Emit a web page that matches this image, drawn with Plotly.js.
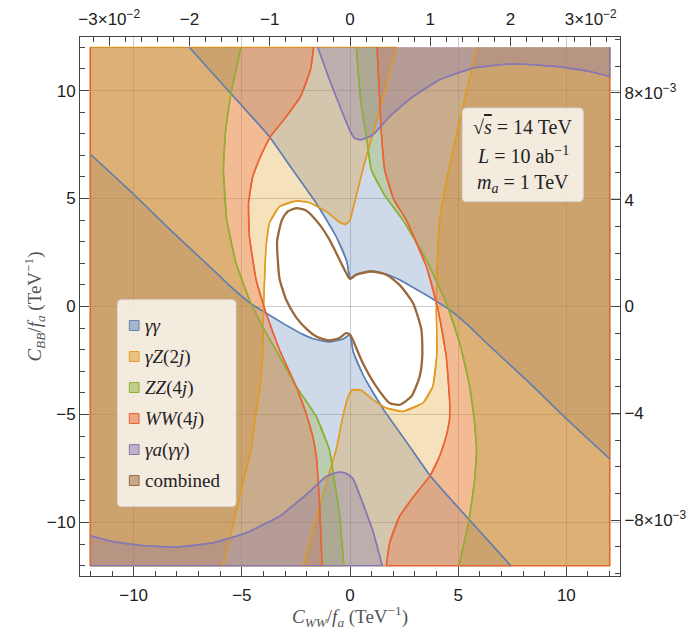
<!DOCTYPE html>
<html>
<head>
<meta charset="utf-8">
<script src="https://cdn.plot.ly/plotly-3.0.1.min.js"></script>
<style>
  html, body { margin: 0; padding: 0; background: #fff; }
  #plot { width: 697px; height: 630px; }
</style>
</head>
<body>
<div id="plot"></div>
<script>
// boundaries, C_WW/f_a (x) against C_BB/f_a (y), TeV^-1
const gagaUpperX = [-7.43, -5.58, -3.73, -2.65, -1.56, -0.64, -0.15, 0.0, 0.3, 0.98, 1.68, 2.29, 3.06, 3.9, 4.61, 5.53, 6.15, 8.31, 10.0, 12.0]
const gagaUpperY = [12.0, 9.95, 7.87, 6.33, 4.79, 3.24, 2.1, 1.3, 1.5, 1.64, 1.5, 1.24, 0.8, 0.3, -0.15, -0.93, -1.54, -3.55, -5.2, -7.05]
const gagaLowerX = [-12.0, -10.0, -8.31, -6.15, -5.53, -4.61, -3.9, -3.06, -2.29, -1.68, -0.98, -0.3, 0.0, 0.15, 0.64, 1.56, 2.65, 3.73, 5.58, 7.43]
const gagaLowerY = [7.05, 5.2, 3.55, 1.54, 0.93, 0.15, -0.3, -0.8, -1.24, -1.5, -1.64, -1.5, -1.3, -2.1, -3.24, -4.79, -6.33, -7.87, -9.95, -12.0]

const gzLeftX = [-5.86, -5.27, -4.81, -4.57, -4.42, -4.16, -4.04, -3.99, -3.88, -3.73, -3.26, -2.49, -1.88, -1.1, -0.5, -0.22, 0.0, 0.13, 0.59, 1.06, 1.68, 2.14]
const gzLeftY = [-12.0, -9.57, -7.56, -6.63, -5.4, -3.7, -2.31, 0.16, 2.78, 3.86, 4.63, 4.89, 4.81, 4.4, 3.92, 3.8, 4.0, 4.48, 6.33, 8.03, 10.19, 12.0]
const gzRightX = [5.86, 5.3, 4.8, 4.45, 4.14, 4.02, 3.99, 4.02, 3.83, 3.37, 2.44, 1.68, 1.06, 0.52, 0.1, -0.1, -0.33, -0.64, -1.06, -1.68, -2.15]
const gzRightY = [12.0, 9.6, 7.4, 5.8, 4.01, 1.7, -0.15, -2.16, -3.7, -4.47, -4.86, -4.7, -4.32, -3.88, -3.86, -4.2, -5.09, -6.63, -8.03, -10.19, -12.0]

const zzLeftX = [-5.04, -5.5, -5.76, -5.85, -5.7, -5.27, -4.65, -4.04, -3.26, -2.49, -1.56, -0.95, -0.8, -0.49, -0.29]
const zzLeftY = [12.0, 9.88, 8.03, 6.3, 4.01, 2.01, 0.31, -0.93, -2.31, -3.7, -5.09, -6.63, -7.56, -9.57, -12.0]
const zzRightX = [0.29, 0.49, 0.8, 0.98, 1.6, 2.44, 3.53, 4.45, 5.07, 5.53, 5.76, 5.85, 5.76, 5.5, 5.04]
const zzRightY = [12.0, 9.57, 7.56, 6.33, 5.15, 4.01, 2.16, 0.16, -1.69, -3.7, -5.4, -6.63, -8.03, -9.88, -12.0]

const wwLeftX = [-1.68, -1.83, -2.29, -3.06, -3.68, -4.14, -4.5, -4.69, -4.65, -4.34, -3.88, -3.26, -2.49, -2.03, -1.72, -1.55, -1.41, -1.29]
const wwLeftY = [12.0, 10.95, 9.72, 8.64, 7.87, 6.94, 6.0, 4.79, 3.24, 1.24, -0.31, -2.0, -3.7, -4.94, -6.02, -7.0, -9.1, -12.0]
const wwRightX = [1.25, 1.35, 1.45, 1.6, 2.03, 2.6, 3.53, 4.07, 4.45, 4.61, 4.6, 4.45, 4.14, 3.68, 3.06, 2.29, 1.83, 1.68]
const wwRightY = [12.0, 10.0, 8.0, 6.33, 4.94, 4.01, 1.85, -0.15, -2.31, -4.47, -5.25, -6.0, -6.94, -7.87, -8.64, -9.72, -10.95, -12.0]

const gaTopX = [-1.49, -0.95, -0.4, -0.02, 0.2, 0.52, 1.06, 1.83, 2.91, 4.14, 5.69, 7.23, 8.0, 9.55, 11.09, 12.0]
const gaTopY = [12.0, 10.5, 9.1, 8.18, 7.8, 7.72, 7.95, 8.8, 9.72, 10.5, 11.04, 11.22, 11.22, 11.11, 10.88, 10.65]
const gaBottomX = [-12.0, -10.98, -9.44, -8.05, -6.35, -4.81, -3.26, -2.03, -1.1, -0.56, -0.2, 0.13, 0.59, 1.06, 1.49]
const gaBottomY = [-10.62, -10.88, -11.08, -11.14, -10.95, -10.49, -9.72, -8.72, -7.87, -7.67, -7.72, -7.95, -9.1, -10.4, -12.0]

const combinedX = [0.0, -0.2, -0.5, -0.95, -1.45, -2.03, -2.49, -2.88, -3.15, -3.37, -3.34, -3.26, -2.95, -2.49, -2.0, -1.56, -1.0, -0.49, -0.18, 0.0, 0.13, 0.59, 1.21, 1.83, 2.29, 2.83, 3.22, 3.34, 3.3, 2.91, 2.29, 1.68, 0.98, 0.29, 0.0]
const combinedY = [1.27, 1.6, 2.2, 3.1, 3.85, 4.45, 4.55, 4.4, 4.0, 3.0, 2.2, 1.3, 0.31, -0.5, -1.05, -1.39, -1.57, -1.46, -1.23, -1.3, -1.54, -2.62, -3.7, -4.47, -4.55, -4.17, -3.24, -2.31, -1.08, 0.16, 1.0, 1.47, 1.62, 1.47, 1.27]

const legendLabels = ["<i>γγ</i>", "<i>γZ</i>(2<i>j</i>)", "<i>ZZ</i>(4<i>j</i>)", "<i>WW</i>(4<i>j</i>)", "<i>γa</i>(<i>γγ</i>)", "combined"]
const legendColors = ["#5E81B5", "#E19C24", "#8FB032", "#EB6235", "#8778B3", "#9A683A"]

const infoLines = ["√<span style=\"text-decoration:overline\"><i>s</i></span> = 14 TeV", "<i>L</i> = 10 ab<sup>−1</sup>", "<i>m</i><sub><i>a</i></sub> = 1 TeV"]

const topTickVals = [-0.03, -0.02, -0.01, 0, 0.01, 0.02, 0.03]
const topTickText = ["−3×10<sup>−2</sup>", "−2", "−1", "0", "1", "2", "3×10<sup>−2</sup>"]
const rightTickVals = [-0.008, -0.004, 0, 0.004, 0.008]
const rightTickText = ["−8×10<sup>−3</sup>", "−4", "0", "4", "8×10<sup>−3</sup>"]

const LIM = 12
const PAD = 12.48
const topScale = 371   // bottom units per unit of the top axis
const rightScale = 1237

function rgba(hex, a) {
  const n = parseInt(hex.slice(1), 16)
  return `rgba(${(n >> 16) & 255},${(n >> 8) & 255},${n & 255},${a})`
}

function region(xs, ys, color) {
  return {
    x: xs, y: ys,
    type: "scatter", mode: "lines", fill: "toself",
    fillcolor: rgba(color, 0.3),
    line: { color: color, width: 1.3 },
    hoverinfo: "skip", showlegend: false,
  }
}

function edge(xs, ys, color, width) {
  return {
    x: xs, y: ys,
    type: "scatter", mode: "lines",
    line: { color: color, width: width || 1.5, shape: "spline", smoothing: 0.6 },
    hoverinfo: "skip", showlegend: false,
  }
}

const fills = [
  region(gagaUpperX.concat([LIM]), gagaUpperY.concat([LIM]), legendColors[0]),
  region(gagaLowerX.concat([-LIM]), gagaLowerY.concat([-LIM]), legendColors[0]),
  region(gzLeftX.concat([-LIM, -LIM]), gzLeftY.concat([LIM, -LIM]), legendColors[1]),
  region(gzRightX.concat([LIM, LIM]), gzRightY.concat([-LIM, LIM]), legendColors[1]),
  region(zzLeftX.concat([-LIM, -LIM]), zzLeftY.concat([-LIM, LIM]), legendColors[2]),
  region(zzRightX.concat([LIM, LIM]), zzRightY.concat([-LIM, LIM]), legendColors[2]),
  region(wwLeftX.concat([-LIM, -LIM]), wwLeftY.concat([-LIM, LIM]), legendColors[3]),
  region(wwRightX.concat([LIM, LIM]), wwRightY.concat([-LIM, LIM]), legendColors[3]),
  region(gaTopX.concat([LIM]), gaTopY.concat([LIM]), legendColors[4]),
  region(gaBottomX.concat([-LIM]), gaBottomY.concat([-LIM]), legendColors[4]),
]

// boundary curves go on top of every fill, as in the original
const lines = [
  edge(gagaUpperX, gagaUpperY, legendColors[0]),
  edge(gagaLowerX, gagaLowerY, legendColors[0]),
  edge(gzLeftX, gzLeftY, legendColors[1]),
  edge(gzRightX, gzRightY, legendColors[1]),
  edge(zzLeftX, zzLeftY, legendColors[2]),
  edge(zzRightX, zzRightY, legendColors[2]),
  edge(wwLeftX, wwLeftY, legendColors[3]),
  edge(wwRightX, wwRightY, legendColors[3]),
  edge(gaTopX, gaTopY, legendColors[4]),
  edge(gaBottomX, gaBottomY, legendColors[4]),
  edge(combinedX, combinedY, legendColors[5], 2.3),
]

const traces = fills.concat(lines, [
  // carries the top and right scales
  { x: [], y: [], xaxis: "x2", yaxis: "y2", type: "scatter", showlegend: false },
])

function roundBox(x0, y0, x1, y1, r) {
  return `M${x0 + r},${y0} L${x1 - r},${y0} Q${x1},${y0} ${x1},${y0 + r} L${x1},${y1 - r} Q${x1},${y1} ${x1 - r},${y1} ` +
    `L${x0 + r},${y1} Q${x0},${y1} ${x0},${y1 - r} L${x0},${y0 + r} Q${x0},${y0} ${x0 + r},${y0} Z`
}

const shapes = []
const annotations = []

// legend panel
shapes.push({
  type: "path", xref: "x", yref: "y", layer: "above",
  path: roundBox(-10.75, -9.26, -5.27, 0.31, 0.2),
  fillcolor: "rgba(255,255,255,0.78)", line: { color: "rgba(215,215,215,0.9)", width: 1 },
})
legendLabels.forEach((lab, i) => {
  const yc = -0.88 - i * 1.436
  shapes.push({
    type: "rect", xref: "x", yref: "y", layer: "above",
    x0: -10.2, x1: -9.75, y0: yc - 0.23, y1: yc + 0.23,
    fillcolor: rgba(legendColors[i], 0.5), line: { color: legendColors[i], width: 1 },
  })
  annotations.push({
    x: -9.55, y: yc, xref: "x", yref: "y", xanchor: "left", yanchor: "middle",
    text: lab, showarrow: false,
    font: { family: "Liberation Serif, serif", size: 19, color: "#222" },
  })
})

// collider parameters panel
shapes.push({
  type: "path", xref: "x", yref: "y", layer: "above",
  path: roundBox(5.19, 4.86, 10.78, 9.19, 0.2),
  fillcolor: "rgba(255,255,255,0.78)", line: { color: "rgba(215,215,215,0.9)", width: 1 },
})
infoLines.forEach((t, i) => {
  annotations.push({
    x: 7.99, y: 8.33 - i * 1.31, xref: "x", yref: "y", xanchor: "center", yanchor: "middle",
    text: t, showarrow: false,
    font: { family: "Liberation Serif, serif", size: 20, color: "#222" },
  })
})

const tickFont = { family: "Liberation Sans, Arial, sans-serif", size: 17, color: "#222" }
const titleFont = { family: "Liberation Serif, serif", size: 19, color: "#555" }
const axisCommon = {
  ticks: "inside", ticklen: 9, tickwidth: 1, tickcolor: "#444",
  showline: true, linecolor: "#444", linewidth: 1,
  zeroline: false, tickfont: tickFont, fixedrange: true,
}

const layout = {
  width: 697, height: 630,
  margin: { l: 80, r: 77, t: 37, b: 54 },
  paper_bgcolor: "#fff", plot_bgcolor: "#fff",
  showlegend: false,
  xaxis: Object.assign({}, axisCommon, {
    range: [-PAD, PAD], tickmode: "linear", tick0: 0, dtick: 5,
    minor: { tickmode: "linear", tick0: 0, dtick: 1, ticks: "inside", ticklen: 5, tickcolor: "#444", showgrid: false },
    showgrid: true, gridcolor: "rgba(0,0,0,0.2)", gridwidth: 1,
    ticklabelstandoff: 4,
    title: { text: "<i>C</i><sub><i>WW</i></sub>/<i>f</i><sub><i>a</i></sub> (TeV<sup>−1</sup>)", font: titleFont, standoff: 9 },
  }),
  yaxis: Object.assign({}, axisCommon, {
    range: [-PAD, PAD], tickmode: "linear", tick0: 0, dtick: 5,
    minor: { tickmode: "linear", tick0: 0, dtick: 1, ticks: "inside", ticklen: 5, tickcolor: "#444", showgrid: false },
    showgrid: true, gridcolor: "rgba(0,0,0,0.2)", gridwidth: 1,
    title: { text: "<i>C</i><sub><i>BB</i></sub>/<i>f</i><sub><i>a</i></sub> (TeV<sup>−1</sup>)", font: titleFont, standoff: 0 },
  }),
  xaxis2: Object.assign({}, axisCommon, {
    overlaying: "x", side: "top", anchor: "y",
    range: [-PAD / topScale, PAD / topScale],
    tickmode: "array", tickvals: topTickVals, ticktext: topTickText,
    minor: { tickmode: "linear", tick0: 0, dtick: 0.002, ticks: "inside", ticklen: 5, tickcolor: "#444", showgrid: false },
    showgrid: false, ticklabelstandoff: 4,
  }),
  yaxis2: Object.assign({}, axisCommon, {
    overlaying: "y", side: "right", anchor: "x",
    range: [-PAD / rightScale, PAD / rightScale],
    tickmode: "array", tickvals: rightTickVals, ticktext: rightTickText,
    minor: { tickmode: "linear", tick0: 0, dtick: 0.001, ticks: "inside", ticklen: 5, tickcolor: "#444", showgrid: false },
    showgrid: false,
  }),
  shapes: shapes,
  annotations: annotations,
}

Plotly.newPlot("plot", traces, layout, { staticPlot: true, displayModeBar: false })
</script>
</body>
</html>
